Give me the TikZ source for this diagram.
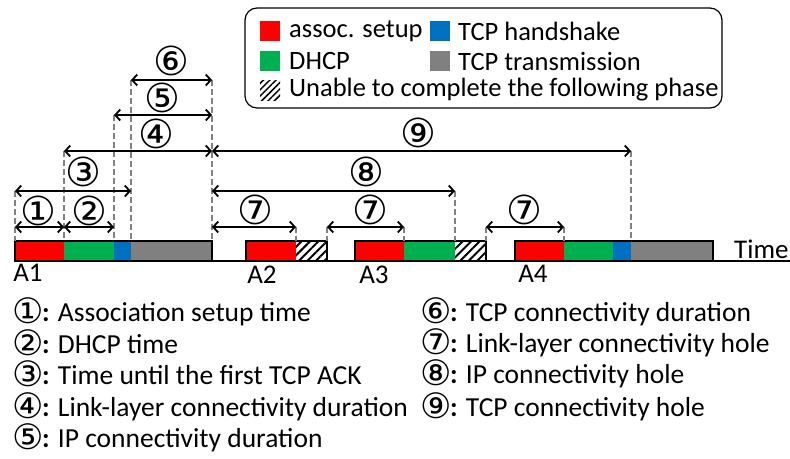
\documentclass[tikz,border=0pt]{standalone}
\usepackage{fontspec}
\setmainfont{Carlito}
\newfontfamily\circfont{DejaVu Sans}
\usetikzlibrary{arrows.meta,patterns.meta}

\definecolor{assoc}{RGB}{255,0,0}
\definecolor{dhcp}{RGB}{0,176,80}
\definecolor{tcphs}{RGB}{0,112,192}
\definecolor{tcptx}{RGB}{128,128,128}
\definecolor{guidegray}{RGB}{130,130,130}

\tikzset{
  span/.style={<->, line width=1.8pt, >={Straight Barb[length=5pt,width=11pt]}},
  guide/.style={guidegray, line width=1.3pt, dash pattern=on 6pt off 3pt},
  hatch/.style={pattern={Lines[angle=45,distance=6pt,line width=2pt]}},
  keybox/.style={minimum size=20pt, inner sep=0pt},
  legtext/.style={anchor=west, inner sep=0pt, font=\fontsize{26.5}{29}\selectfont},
  num/.style={inner sep=0pt, font=\circfont\fontsize{40}{42}\selectfont},
  aplabel/.style={inner sep=0pt, font=\fontsize{27}{29}\selectfont},
  item/.style={anchor=base west, inner sep=0pt, font=\fontsize{27.5}{30}\selectfont},
}

\newcommand{\cnum}[1]{\smash{\raisebox{-2pt}{\circfont\fontsize{35}{37}\selectfont #1}}\hspace{-1.5pt}}

\begin{document}
\begin{tikzpicture}[x=1pt,y=-1pt]
   \useasboundingbox (0,0) rectangle (790,458);
   %\draw[step=10,gray,very thin] (0,0) grid (790,458);

   % legend
   \draw[rounded corners=12pt, line width=1.2pt] (245,8) rectangle (722,108);
   \node[keybox, fill=assoc] (kassoc) at (270,31) {};
   \node[legtext] (lassoc) at (289,31) {assoc. setup};
   \node[keybox, fill=tcphs] (khs) at (440,31) {};
   \node[legtext] (lhs) at (458,31) {TCP handshake};
   \node[keybox, fill=dhcp] (kdhcp) at (270,61) {};
   \node[legtext] (ldhcp) at (289,61) {DHCP};
   \node[keybox, fill=tcptx] (ktx) at (440,61) {};
   \node[legtext] (ltx) at (458,61) {TCP transmission};
   \node[keybox, pattern={Lines[angle=45,distance=4.5pt,line width=1.5pt]}] (khatch) at (270,90) {};
   \node[legtext] (lhatch) at (289,90) {Unable to complete the following phase};

   % time axis
   \draw[line width=1.5pt] (15,261) -- (790,261);
   \node[aplabel, anchor=base west] (time) at (734,258) {Time};

   % bars
   \foreach \a/\b/\c in {15/64/assoc, 64/114/dhcp, 114/131/tcphs, 131/212/tcptx,
                         246/296/assoc, 355/404/assoc, 404/455/dhcp,
                         515/564/assoc, 564/613/dhcp, 613/631/tcphs, 631/713/tcptx}
      \fill[\c] (\a,241) rectangle (\b,261);
   \fill[white, hatch] (296,241) rectangle (327,261);
   \fill[white, hatch] (455,241) rectangle (486,261);
   \foreach \a/\b in {15/212, 246/327, 355/486, 515/713}
      \draw[line width=1.2pt] (\a,241) rectangle (\b,261);

   \node[aplabel] (a1) at (28,273) {A1};
   \node[aplabel] (a2) at (262,275) {A2};
   \node[aplabel] (a3) at (374,275) {A3};
   \node[aplabel] (a4) at (533,274) {A4};

   % phase boundaries on top of the bars
   \coordinate (p0) at (15,241);
   \coordinate (p1) at (64,241);
   \coordinate (p2) at (114,241);
   \coordinate (p3) at (131,241);
   \coordinate (p4) at (212,241);
   \coordinate (q1) at (296,241);
   \coordinate (q2) at (327,241);
   \coordinate (r1) at (404,241);
   \coordinate (r2) at (455,241);
   \coordinate (r3) at (486,241);
   \coordinate (s1) at (564,241);
   \coordinate (s3) at (631,241);

   % arrow levels
   \coordinate (L1) at (0,227);
   \coordinate (L2) at (0,191);
   \coordinate (L3) at (0,151);
   \coordinate (L4) at (0,115);
   \coordinate (L5) at (0,80);

   \draw[guide] (p0 |- L2) -- (p0);
   \draw[guide] (p1 |- L3) -- (p1);
   \draw[guide] (p2 |- L4) -- (p2);
   \draw[guide] (p3 |- L5) -- (p3);
   \draw[guide] (p4 |- L5) -- (p4);
   \draw[guide] (q1 |- L1) -- (q1);
   \draw[guide] (q2 |- L1) -- (q2);
   \draw[guide] (r1 |- L1) -- (r1);
   \draw[guide] (r2 |- L2) -- (r2);
   \draw[guide] (r3 |- L1) -- (r3);
   \draw[guide] (s1 |- L1) -- (s1);
   \draw[guide] (s3 |- L3) -- (s3);

   \draw[span] (p0 |- L1) -- (p1 |- L1);
   \draw[span] (p1 |- L1) -- (p2 |- L1);
   \draw[span] (p0 |- L2) -- (p3 |- L2);
   \draw[span] (p1 |- L3) -- (p4 |- L3);
   \draw[span] (p2 |- L4) -- (p4 |- L4);
   \draw[span] (p3 |- L5) -- (p4 |- L5);
   \draw[span] (p4 |- L1) -- (q1 |- L1);
   \draw[span] (q2 |- L1) -- (r1 |- L1);
   \draw[span] (r3 |- L1) -- (s1 |- L1);
   \draw[span] (p4 |- L2) -- (r2 |- L2);
   \draw[span] (p4 |- L3) -- (s3 |- L3);

   \node[num] (n1) at (38,211) {①};
   \node[num] (n2) at (89,211) {②};
   \node[num] (n3) at (83,172) {③};
   \node[num] (n4) at (156,134) {④};
   \node[num] (n5) at (162,98) {⑤};
   \node[num] (n6) at (171,61) {⑥};
   \node[num] (n7a) at (255,210) {⑦};
   \node[num] (n7b) at (370,210) {⑦};
   \node[num] (n7c) at (524,210) {⑦};
   \node[num] (n8) at (366,172) {⑧};
   \node[num] (n9) at (418,133) {⑨};

   % explanation
   \node[item] (d1) at (12,321.5) {\cnum{①}\textbf{:} Association setup time};
   \node[item] (d2) at (12,353) {\cnum{②}\textbf{:} DHCP time};
   \node[item] (d3) at (12,384.5) {\cnum{③}\textbf{:} Time until the first TCP ACK};
   \node[item] (d4) at (12,416) {\cnum{④}\textbf{:} Link-layer connectivity duration};
   \node[item] (d5) at (12,447.5) {\cnum{⑤}\textbf{:} IP connectivity duration};
   \node[item] (d6) at (420,321) {\cnum{⑥}\textbf{:} TCP connectivity duration};
   \node[item] (d7) at (420,352) {\cnum{⑦}\textbf{:} Link-layer connectivity hole};
   \node[item] (d8) at (420,383.5) {\cnum{⑧}\textbf{:} IP connectivity hole};
   \node[item] (d9) at (420,416) {\cnum{⑨}\textbf{:} TCP connectivity hole};

\end{tikzpicture}
\end{document}
